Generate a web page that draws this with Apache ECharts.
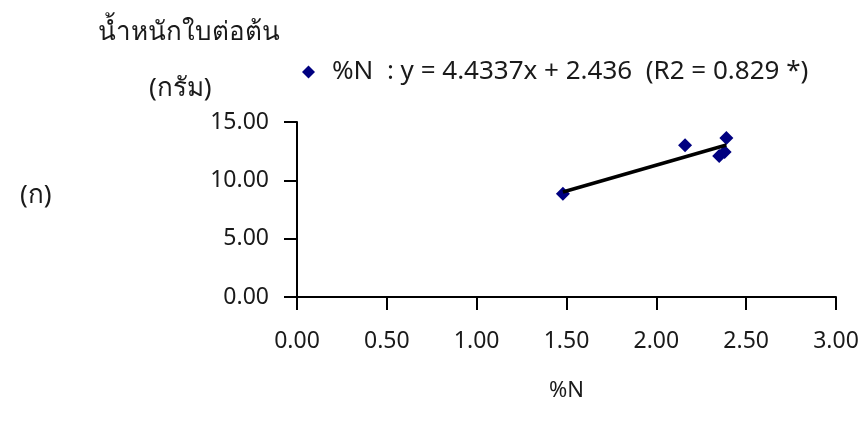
<!DOCTYPE html>
<html>
<head>
<meta charset="utf-8">
<script src="https://cdn.jsdelivr.net/npm/echarts@6/dist/echarts.min.js"></script>
<style>
  html, body { margin: 0; padding: 0; background: #fff; }
  #chart { width: 862px; height: 432px; }
</style>
</head>
<body>
<div id="chart"></div>
<script>
// values
const nPercent = [1.48, 2.16, 2.39, 2.38, 2.35];
const leafWeight = [8.86, 13.0, 13.62, 12.43, 12.08];
const xTicks = [0, 0.5, 1, 1.5, 2, 2.5, 3];
const yTicks = [0, 5, 10, 15];
// trendline from the equation printed in the legend
const slope = 4.4337;
const intercept = 2.436;
const r2 = '0.829 *';

const font = '"Noto Sans", "DejaVu Sans", sans-serif';
const ink = '#1a1a1a';
const xMin = Math.min(...nPercent);
const xMax = Math.max(...nPercent);
const trend = [xMin, xMax].map((x) => [x, slope * x + intercept]);

const chart = echarts.init(document.getElementById('chart'));
chart.setOption({
  animation: false,
  textStyle: { fontFamily: font, color: ink },
  title: {
    text: 'น้ำหนักใบต่อต้น',
    left: 93,
    top: 15,
    textStyle: { fontSize: 26, fontWeight: 'normal', color: ink, fontFamily: font },
  },
  graphic: [
    { type: 'text', left: 149, top: 76, style: { text: '(กรัม)', fill: ink, font: '26px ' + font } },
    { type: 'text', left: 20, top: 183, style: { text: '(ก)', fill: ink, font: '26px ' + font } },
  ],
  legend: {
    left: 297,
    top: 54,
    icon: 'diamond',
    itemWidth: 13,
    itemHeight: 13,
    data: ['%N'],
    formatter: (name) => name + '  : y = ' + slope + 'x + ' + intercept + '  (R2 = ' + r2 + ')',
    textStyle: { fontSize: 26, color: ink, fontFamily: font, padding: [0, 0, 0, 12] },
  },
  grid: { left: 297, right: 26, top: 122, bottom: 135 },
  xAxis: {
    type: 'value',
    min: xTicks[0],
    max: xTicks[xTicks.length - 1],
    interval: xTicks[1] - xTicks[0],
    name: '%N',
    nameLocation: 'middle',
    nameGap: 83,
    nameTextStyle: { fontSize: 22, color: ink },
    axisLine: { lineStyle: { color: '#000', width: 2 } },
    axisTick: { length: 13, lineStyle: { color: '#000', width: 2 } },
    axisLabel: { margin: 33, fontSize: 23, color: ink, formatter: (v) => v.toFixed(2) },
    splitLine: { show: false },
  },
  yAxis: {
    type: 'value',
    min: yTicks[0],
    max: yTicks[yTicks.length - 1],
    interval: yTicks[1] - yTicks[0],
    axisLine: { show: true, lineStyle: { color: '#000', width: 2 } },
    axisTick: { show: true, length: 13, lineStyle: { color: '#000', width: 2 } },
    axisLabel: { margin: 28, fontSize: 23, color: ink, formatter: (v) => v.toFixed(2) },
    splitLine: { show: false },
  },
  series: [
    {
      name: '%N',
      type: 'scatter',
      symbol: 'diamond',
      symbolSize: 14,
      itemStyle: { color: '#000080', opacity: 1 },
      data: nPercent.map((x, i) => [x, leafWeight[i]]),
      z: 2,
    },
    {
      name: 'trend',
      type: 'line',
      data: trend,
      symbol: 'none',
      lineStyle: { color: '#000', width: 3.5 },
      z: 3,
    },
  ],
});
</script>
</body>
</html>
